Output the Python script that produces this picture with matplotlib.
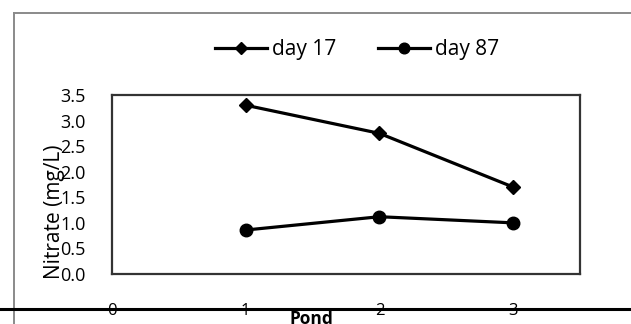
import matplotlib.pyplot as plt
from matplotlib.lines import Line2D

plt.rcParams['font.family'] = ['Open Sans', 'DejaVu Sans']

# nitrate concentration per pond, two sampling days
ponds = [1, 2, 3]
day17 = [3.3, 2.75, 1.7]
day87 = [0.86, 1.12, 1.0]
xticks = [0, 1, 2, 3]
yticks = [0.0, 0.5, 1.0, 1.5, 2.0, 2.5, 3.0, 3.5]

fig = plt.figure(figsize=(6.31, 3.24), dpi=100)
ax = fig.add_axes([112 / 631, 1 - 274 / 324, 468 / 631, 179 / 324])

ax.plot(ponds, day17, color='black', lw=2.3, marker='D', ms=7.5, label='day 17')
ax.plot(ponds, day87, color='black', lw=2.3, marker='o', ms=9, label='day 87')

ax.set_xlim(0, 3.5)
ax.set_ylim(0, 3.5)
ax.set_yticks(yticks)
ax.set_yticklabels([f'{v:.1f}' for v in yticks], fontsize=13)
ax.tick_params(axis='y', length=0, pad=19)
ax.set_xticks([])
for s in ax.spines.values():
    s.set_color('#333333')
    s.set_linewidth(1.6)

ax.set_ylabel('Nitrate (mg/L)', fontsize=15)
ax.yaxis.set_label_coords(-0.1, 0.345)
ax.set_xlabel('Pond', fontsize=12.5, fontweight='bold')
ax.xaxis.set_label_coords(0.427, -0.2)

# detached category axis below the box, labels sit on the line
sec = ax.secondary_xaxis(-35 / 179)
sec.set_xticks(xticks)
sec.set_xticklabels([str(v) for v in xticks], fontsize=12)
sec.tick_params(length=0, pad=-4.5)
sec.spines['bottom'].set_visible(False)
fig.add_artist(Line2D([0, 1], [1 - 309 / 324] * 2, color='black', lw=2.2,
                      transform=fig.transFigure, zorder=5))

# outer chart frame
frame_kw = dict(color='#8a8a8a', lw=1.4, transform=fig.transFigure)
fig.add_artist(Line2D([14 / 631, 1], [1 - 13 / 324] * 2, **frame_kw))
fig.add_artist(Line2D([14 / 631] * 2, [0, 1 - 13 / 324], **frame_kw))

ax.legend(loc='center', bbox_to_anchor=(0.566, 0.846), bbox_transform=fig.transFigure,
          ncol=2, frameon=False, fontsize=15, handlelength=2.5, columnspacing=2.0,
          handletextpad=0.25, markerscale=0.85)

fig.savefig('out.png', dpi=100)
